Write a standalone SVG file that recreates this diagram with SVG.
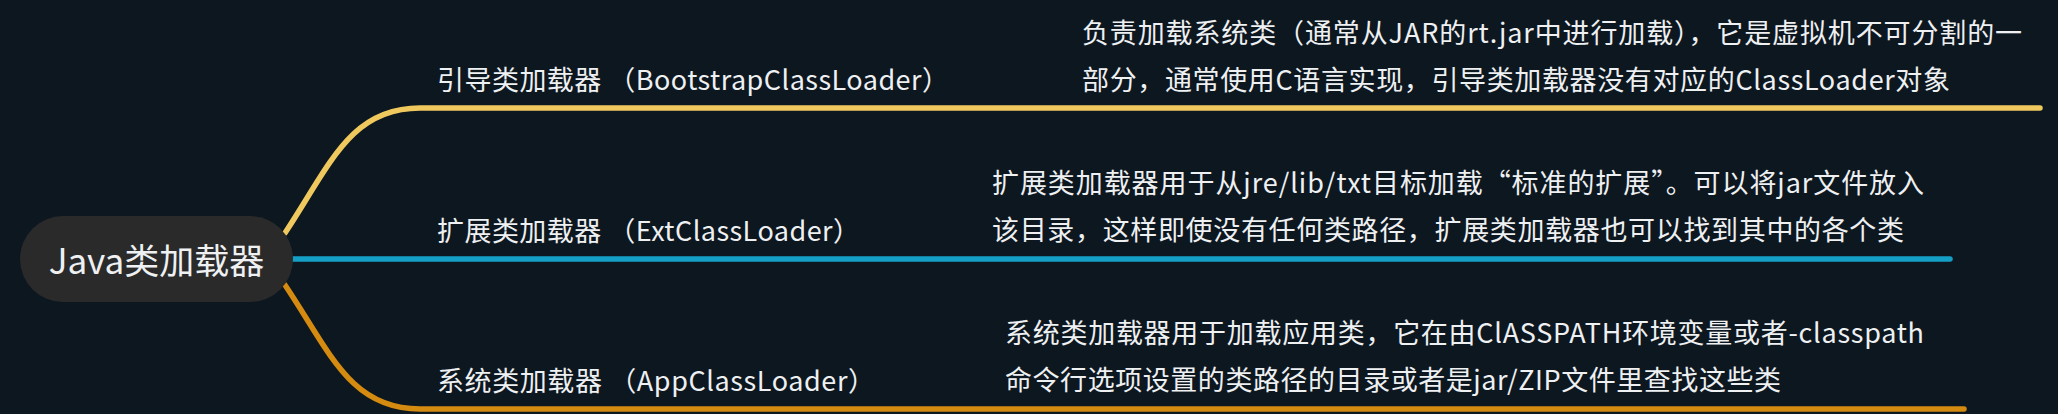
<svg xmlns="http://www.w3.org/2000/svg" width="2058" height="414" viewBox="0 0 2058 414">
<style>
.t{font-family:"Noto Sans CJK SC","Microsoft YaHei",sans-serif;fill:#eef0f2;font-size:27px}
.root{font-size:35px}
.c{fill:none;stroke-width:5.5;stroke-linecap:round}
</style>
<rect width="2058" height="414" fill="#0d1720"/>
<g id="connectors">
<path class="c" stroke="#f0c95e" d="M285 233 C330 165 350 108 420 108 L2040 108"/>
<path class="c" stroke="#14a0c6" d="M290 259 L1950 259"/>
<path class="c" stroke="#d48b10" d="M285 285 C330 352 350 409 420 409 L1964 409"/>
</g>
<g id="root">
<rect x="20" y="216" width="273" height="86" rx="43" fill="#2a2a2a"/>
<text class="t root" x="156.5" y="274" text-anchor="middle">Java类加载器</text>
</g>
<g id="bootstrap">
<text class="t" x="437" y="90" textLength="512">引导类加载器 （BootstrapClassLoader）</text>
</g>
<g id="bootstrap-desc">
<text class="t" x="1082" y="43" textLength="940">负责加载系统类（通常从JAR的rt.jar中进行加载），它是虚拟机不可分割的一</text>
<text class="t" x="1082" y="90" textLength="868">部分，通常使用C语言实现，引导类加载器没有对应的ClassLoader对象</text>
</g>
<g id="ext">
<text class="t" x="437" y="241" textLength="423">扩展类加载器 （ExtClassLoader）</text>
</g>
<g id="ext-desc">
<text class="t" x="992" y="193" textLength="932">扩展类加载器用于从jre/lib/txt目标加载“标准的扩展”。可以将jar文件放入</text>
<text class="t" x="992" y="240" textLength="912">该目录，这样即使没有任何类路径，扩展类加载器也可以找到其中的各个类</text>
</g>
<g id="app">
<text class="t" x="437" y="391" textLength="438">系统类加载器 （AppClassLoader）</text>
</g>
<g id="app-desc">
<text class="t" x="1005" y="343" textLength="919">系统类加载器用于加载应用类，它在由ClASSPATH环境变量或者-classpath</text>
<text class="t" x="1005" y="390" textLength="776">命令行选项设置的类路径的目录或者是jar/ZIP文件里查找这些类</text>
</g>
</svg>
